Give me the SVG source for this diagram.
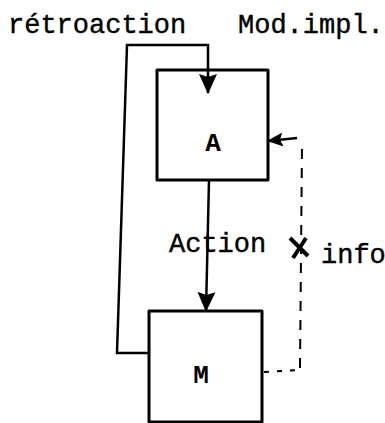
<svg xmlns="http://www.w3.org/2000/svg" width="385" height="423" viewBox="0 0 385 423">
<style>
.box{fill:none;stroke:#000;stroke-width:3;stroke-linejoin:round}
.ln{fill:none;stroke:#000;stroke-width:2.5}
.dash{fill:none;stroke:#000;stroke-width:2;stroke-dasharray:10 9}
.dot{fill:none;stroke:#000;stroke-width:2;stroke-dasharray:5 8}
.t{font-family:"Liberation Mono","Courier New",monospace;font-size:27px;fill:#000;stroke:#000;stroke-width:0.4}
.b{font-family:"Liberation Mono","Courier New",monospace;font-size:26px;font-weight:bold;fill:#000}
</style>
<defs>
<marker id="ahl" markerWidth="20" markerHeight="20" refX="19" refY="10" orient="auto" markerUnits="userSpaceOnUse" viewBox="0 0 20 20">
<path d="M0,1 L20,10 L0,19 L3,10 Z" fill="#000"/>
</marker>
<marker id="ahs" markerWidth="16" markerHeight="14" refX="15" refY="7" orient="auto" markerUnits="userSpaceOnUse" viewBox="0 0 16 14">
<path d="M0,0 L16,7 L0,14 L3,7 Z" fill="#000"/>
</marker>
</defs>
<g id="labels">
<text class="t" x="8" y="33">rétroaction</text>
<text class="t" x="238" y="33">Mod.impl.</text>
<text class="t" x="169" y="252">Action</text>
<text class="t" x="321" y="263">info</text>
</g>
<g id="node-A">
<rect class="box" x="157" y="70" width="111" height="110"/>
<text class="b" x="213" y="151" text-anchor="middle">A</text>
</g>
<g id="node-M">
<rect class="box" x="149" y="311" width="113" height="111"/>
<text class="b" x="201" y="383" text-anchor="middle">M</text>
</g>
<g id="connectors">
<path class="ln" d="M149,353 L117,353 L127,45 L208,45 L208,93" marker-end="url(#ahl)"/>
<path class="ln" d="M209,180 L206,311" marker-end="url(#ahl)"/>
<path class="dot" d="M264,372 L298,370"/>
<path class="dash" d="M300,368 L302,145"/>
<path class="ln" d="M297,138 L268,141" marker-end="url(#ahs)"/>
<path d="M290,238 L308,256 M306,238 L293,258" stroke="#000" stroke-width="4" fill="none"/>
</g>
</svg>
